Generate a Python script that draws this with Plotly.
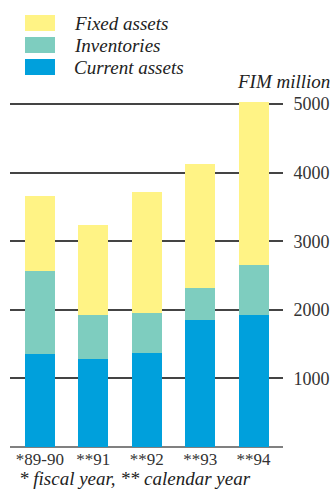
import plotly.graph_objects as go

# Asset structure, FIM million
periods = ["*89-90", "**91", "**92", "**93", "**94"]
current_assets = [1350, 1290, 1365, 1845, 1920]
inventories = [1210, 630, 585, 480, 730]
fixed_assets = [1095, 1310, 1765, 1795, 2380]

series_names = ["Fixed assets", "Inventories", "Current assets"]
series_colors = ["#FFF385", "#7ECDBF", "#00A0DC"]

y_ticks = [1000, 2000, 3000, 4000, 5000]
unit_label = "FIM million"
footnote = "* fiscal year, ** calendar year"

serif = "Liberation Serif, Times New Roman, serif"

x_pos = list(range(len(periods)))
fig = go.Figure()
# stacked from the bottom: current assets, inventories, fixed assets
for name, vals, col in [
    (series_names[2], current_assets, series_colors[2]),
    (series_names[1], inventories, series_colors[1]),
    (series_names[0], fixed_assets, series_colors[0]),
]:
    fig.add_trace(go.Bar(x=x_pos, y=vals, name=name, marker=dict(color=col, line=dict(width=0)),
                         width=0.56, showlegend=False, hoverinfo="skip"))

fig.update_layout(
    barmode="stack",
    width=333, height=489,
    margin=dict(l=10, r=50, t=80, b=42),
    paper_bgcolor="white", plot_bgcolor="white",
    font=dict(family=serif, size=18, color="#222"),
    xaxis=dict(range=[-0.56, 4.55], tickvals=x_pos, ticktext=periods, showgrid=False,
               zeroline=False, showline=False, ticks="", tickfont=dict(size=17, color="#333"),
               automargin=False, fixedrange=True),
    yaxis=dict(range=[0, 5350], side="right", tickvals=y_ticks, showgrid=True,
               gridcolor="#444", gridwidth=1.5, zeroline=True, zerolinecolor="#808080",
               zerolinewidth=2, showline=False, ticks="outside", ticklen=6,
               tickcolor="rgba(0,0,0,0)", tickfont=dict(size=18, color="#333"),
               automargin=False, fixedrange=True),
)

# legend swatches and labels
for i, (name, col) in enumerate(zip(series_names, series_colors)):
    y0 = 15 + 22 * i
    fig.add_shape(type="rect", xref="paper", yref="paper",
                  x0=(25 - 10) / 273, x1=(55 - 10) / 273,
                  y0=(447 - (y0 + 16)) / 367, y1=(447 - y0) / 367,
                  fillcolor=col, line=dict(width=0), layer="above")
    fig.add_annotation(text=f"<i>{name}</i>", xref="paper", yref="paper",
                       x=(72 - 10) / 273, y=(447 - (y0 + 8)) / 367,
                       xanchor="left", yanchor="middle", showarrow=False,
                       font=dict(family=serif, size=19, color="#222"))

fig.add_annotation(text=f"<i>{unit_label}</i>", xref="paper", yref="paper",
                   x=(332 - 10) / 273, y=(447 - 81) / 367, xanchor="right", yanchor="middle",
                   showarrow=False, font=dict(family=serif, size=19, color="#222"))

fig.add_annotation(text=f"<i>{footnote}</i>", xref="paper", yref="paper",
                   x=(17 - 10) / 273, y=(447 - 478) / 367, xanchor="left", yanchor="middle",
                   showarrow=False, font=dict(family=serif, size=19, color="#222"))

fig.write_html("out.html")
